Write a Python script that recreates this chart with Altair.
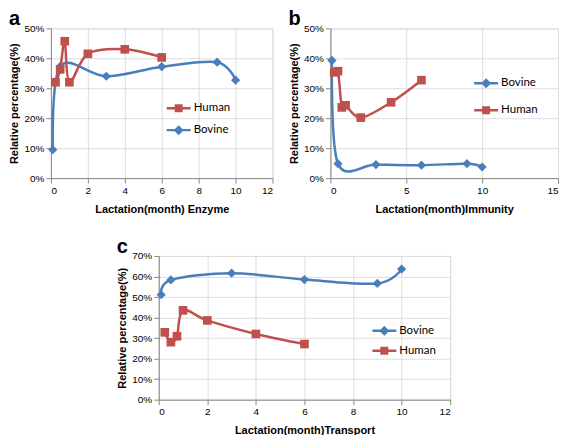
import altair as alt
import pandas as pd

# ---- data (percent values) ----
months_human = [0.25, 0.5, 0.75, 1, 2, 4, 6]
months_bovine = [0.1, 0.5, 3, 6, 9, 10]

enzyme_human = [32.0, 36.3, 45.7, 32.0, 41.5, 43.0, 40.3]
enzyme_bovine = [9.5, 37.3, 34.0, 37.2, 38.7, 32.7]

immunity_human = [35.3, 35.7, 23.6, 24.3, 20.2, 25.3, 32.7]
immunity_bovine = [39.3, 4.8, 4.5, 4.3, 4.8, 3.7]

transport_human = [32.8, 28.0, 30.9, 43.5, 38.6, 32.0, 27.1]
transport_bovine = [51.1, 58.3, 61.6, 58.5, 56.6, 63.6]

RED = "#C0504D"
BLUE = "#4A7EBB"
FONT = "Lato"

legend_paths = {
    "Human": "M-1.2,-0.12H1.2V0.12H-1.2Z M-0.4,-0.4H0.4V0.4H-0.4Z",
    "Bovine": "M-1.2,-0.12H1.2V0.12H-1.2Z M0,-0.5L0.5,0L0,0.5L-0.5,0Z",
}
colors = {"Human": RED, "Bovine": BLUE}
shapes = {"Human": "square", "Bovine": "diamond"}
sizes = {"Human": 75, "Bovine": 85}


def panel(label, xtitle, human, bovine, xmax, xstep, ymax, w, h,
          legend_order, lx, ly, rowpad):
    df = pd.DataFrame({
        "month": months_human + months_bovine,
        "value": [v / 100 for v in human + bovine],
        "series": ["Human"] * len(months_human) + ["Bovine"] * len(months_bovine),
    })
    x = alt.X("month:Q",
              scale=alt.Scale(domain=[0, xmax], nice=False, zero=True),
              axis=alt.Axis(values=list(range(0, xmax + 1, xstep)), title=xtitle,
                            titlePadding=8))
    yvals = [i / 10 for i in range(0, int(round(ymax * 10)) + 1)]
    y = alt.Y("value:Q",
              scale=alt.Scale(domain=[0, ymax], nice=False),
              axis=alt.Axis(values=yvals, format=".0%", title="Relative percentage(%)"))
    base = alt.Chart(df).encode(x=x, y=y)
    layers = []
    for s in ["Bovine", "Human"]:
        sub = base.transform_filter(alt.datum.series == s)
        layers.append(sub.mark_line(color=colors[s], strokeWidth=2.5,
                                    interpolate="cardinal"))
        layers.append(sub.mark_point(color=colors[s], shape=shapes[s], filled=True,
                                     size=sizes[s], opacity=1))
    leg = alt.Legend(orient="none", legendX=lx, legendY=ly, title=None,
                     symbolSize=400, symbolOpacity=1, symbolStrokeWidth=0,
                     labelFont=FONT, labelFontSize=11.5, labelColor="#000000",
                     labelOffset=5, rowPadding=rowpad, padding=0)
    legend_layer = base.mark_point(opacity=0, filled=True).encode(
        color=alt.Color("series:N",
                        scale=alt.Scale(domain=legend_order,
                                        range=[colors[s] for s in legend_order]),
                        legend=leg),
        shape=alt.Shape("series:N",
                        scale=alt.Scale(domain=legend_order,
                                        range=[legend_paths[s] for s in legend_order]),
                        legend=leg),
    )
    return alt.layer(*layers, legend_layer).properties(
        width=w, height=h,
        title=alt.TitleParams(label, anchor="start", frame="bounds",
                              font="Liberation Sans", fontSize=20,
                              fontWeight="bold", color="#000000", offset=-6),
    )


a = panel("a", "Lactation(month) Enzyme", enzyme_human, enzyme_bovine,
          12, 2, 0.5, 222, 150, ["Human", "Bovine"], 118, 70, 6)
b = panel("b", "Lactation(month)Immunity", immunity_human, immunity_bovine,
          15, 5, 0.5, 228, 150, ["Bovine", "Human"], 146, 45, 11)
c = panel("c", "Lactation(month)Transport", transport_human, transport_bovine,
          12, 2, 0.7, 292, 144, ["Bovine", "Human"], 216, 65, 4)

top = alt.hconcat(a, b, spacing=14).resolve_scale(
    color="independent", shape="independent"
).resolve_legend(color="independent", shape="independent")

chart = alt.vconcat(top, c, spacing=21, center=True).resolve_scale(
    color="independent", shape="independent"
).resolve_legend(
    color="independent", shape="independent"
).configure_view(
    stroke=None
).configure_axis(
    grid=False,
    domainColor="#868686",
    tickColor="#868686",
    tickSize=4,
    labelFont=FONT,
    labelFontSize=11.5,
    labelColor="#000000",
    titleFont=FONT,
    titleFontSize=11,
    titleFontWeight="bold",
    titleColor="#000000",
    labelPadding=2,
).configure(padding=0)

chart.save("out.html", embed_options={"renderer": "svg", "actions": False})
